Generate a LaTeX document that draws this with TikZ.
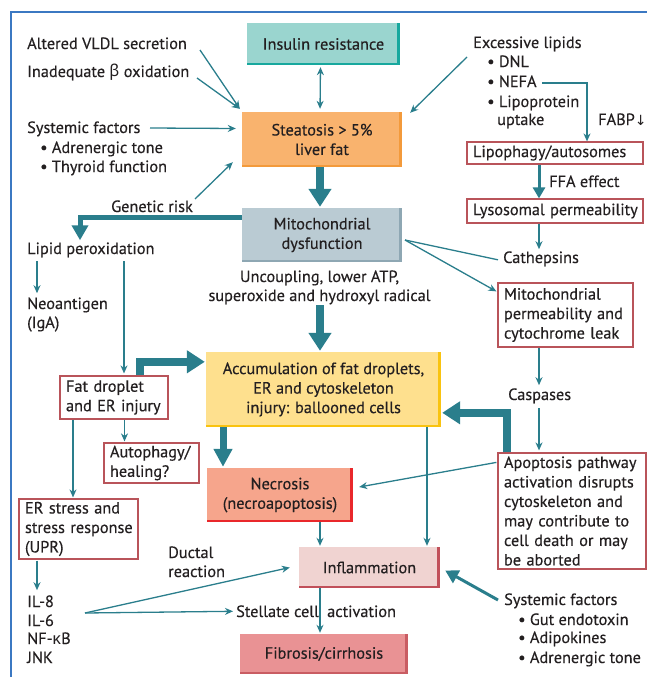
\documentclass[tikz,border=0pt]{standalone}
\usepackage{fontspec}
\setmainfont{PT Sans}[FakeBold=0.35]
\newfontfamily\gkfont{Noto Sans}
\newfontfamily\symfont{DejaVu Sans}
\usetikzlibrary{arrows.meta,calc}
\definecolor{arrc}{HTML}{2A7E8C}
\definecolor{framec}{HTML}{3B78C2}
\definecolor{rboxc}{HTML}{B9545A}
\definecolor{tc}{HTML}{231F20}
\definecolor{insf}{HTML}{9AD5CF}\definecolor{inse}{HTML}{17A89E}
\definecolor{steatf}{HTML}{F9B36E}\definecolor{steate}{HTML}{F39A3B}
\definecolor{mitof}{HTML}{BACBD3}\definecolor{mitoe}{HTML}{8EA7B3}
\definecolor{accf}{HTML}{FEE08E}\definecolor{acce}{HTML}{F9C310}
\definecolor{necf}{HTML}{F6A58C}\definecolor{nece}{HTML}{E9282B}
\definecolor{inff}{HTML}{F0D3D1}\definecolor{infe}{HTML}{C1505A}
\definecolor{fibf}{HTML}{E99294}\definecolor{fibe}{HTML}{C95D63}
\tikzset{
  every node/.style={font=\fontsize{16.3}{19.5}\selectfont, text=tc},
  txt/.style={inner sep=0pt, anchor=base west},
  ctxt/.style={inner sep=0pt, anchor=base},
  rbox/.style={draw=rboxc, line width=1.2pt, fill=white, inner xsep=6pt, inner ysep=0pt, align=left},
  cbox/.style n args={2}{fill=#1, inner sep=0pt, align=center,
    path picture={
      \fill[#2] ([xshift=-3pt]path picture bounding box.north east) rectangle (path picture bounding box.south east);
      \fill[#2] (path picture bounding box.south west) rectangle ([yshift=2pt]path picture bounding box.south east);}},
  arr/.style={draw=arrc, line width=1.3pt, -{Stealth[length=8pt,width=7pt]}},
  darr/.style={draw=arrc, line width=1.3pt, {Stealth[length=8pt,width=7pt]}-{Stealth[length=8pt,width=7pt]}},
  plainl/.style={draw=arrc, line width=1.3pt},
  marr/.style={draw=arrc, line width=3pt, -{Triangle[length=11pt,width=12pt]}},
  tarr/.style={draw=arrc, line width=8pt, -{Triangle[length=18pt,width=22pt]}},
}
\begin{document}
\hyphenpenalty=10000 \exhyphenpenalty=10000 \lefthyphenmin=64
\begin{tikzpicture}[x=1pt,y=-1pt]
\useasboundingbox (0,0) rectangle (647,677);
\draw[framec, line width=2pt] (11,677) -- (11,12) -- (647,12);

% coloured boxes
\node[cbox={insf}{inse}, minimum width=153pt, minimum height=42pt] (ins) at (323.5,44) {Insulin resistance};
\node[cbox={steatf}{steate}, minimum width=160pt, minimum height=55pt] (steat) at (322,139.5) {Steatosis > 5\%\\liver fat};
\node[cbox={mitof}{mitoe}, minimum width=160pt, minimum height=54pt] (mito) at (322,235) {Mitochondrial\\dysfunction};
\node[cbox={accf}{acce}, minimum width=235pt, minimum height=75pt] (accum) at (323.5,389.5) {Accumulation of fat droplets,\\ER and cytoskeleton\\injury: ballooned cells};
\node[cbox={necf}{nece}, minimum width=146pt, minimum height=54pt] (necro) at (280,495) {Necrosis\\(necroapoptosis)};
\node[cbox={inff}{infe}, minimum width=141pt, minimum height=41pt] (infl) at (369.5,567.5) {Inflammation};
\node[cbox={fibf}{fibe}, minimum width=168pt, minimum height=40pt] (fib) at (324,654) {Fibrosis/cirrhosis};

% red outlined boxes
\node[rbox, minimum width=176pt, minimum height=22pt, text width=164pt] (lipo) at (555,153) {Lipophagy/autosomes};
\node[rbox, minimum width=176pt, minimum height=24pt, text width=164pt] (lyso) at (555,211) {Lysosomal~permeability};
\node[rbox, minimum width=135pt, minimum height=64pt, text width=123pt] (mperm) at (565.5,315) {Mitochondrial\\permeability~and\\cytochrome~leak};
\node[rbox, minimum width=108pt, minimum height=43pt, text width=96pt] (fatd) at (114,397.5) {Fat~droplet\\and~ER~injury};
\node[rbox, minimum width=95pt, minimum height=40pt, text width=83pt] (autoph) at (151.5,463) {Autophagy/\\healing?};
\node[rbox, minimum width=119pt, minimum height=60pt, text width=107pt] (ers) at (78.5,529) {ER~stress~and\\stress~response\\(UPR)};
\node[rbox, minimum width=148pt, minimum height=116pt, text width=136pt] (apop) at (572,511) {Apoptosis~pathway\\activation~disrupts\\cytoskeleton~and\\may~contribute~to\\cell~death~or~may\\be~aborted};

% plain texts
\node[txt] (vldl) at (27,49) {Altered VLDL secretion};
\node[txt] (beta) at (27,77) {Inadequate {\gkfont β} oxidation};
\node[txt] (sysL) at (27,133) {Systemic factors};
\node[txt] (sysLa) at (40,153) {• Adrenergic tone};
\node[txt] (sysLb) at (40,172) {• Thyroid function};
\node[txt] (gen) at (111,212) {Genetic risk};
\node[txt] (exl) at (473,48) {Excessive lipids};
\node[txt] (dnl) at (487,67) {• DNL};
\node[txt] (nefa) at (487,87) {• NEFA};
\node[txt] (lipop) at (487,107) {• Lipoprotein};
\node[txt] (upt) at (497,125) {uptake};
\node[txt] (fabp) at (598,125) {FABP{\symfont\fontsize{14}{14}\selectfont ↓}};
\node[txt] (ffa) at (549,187) {FFA effect};
\node[txt] (cath) at (503,263) {Cathepsins};
\node[txt] (lipid) at (27,254) {Lipid peroxidation};
\node[txt] (neo) at (27,309) {Neoantigen};
\node[txt] (iga) at (27,328) {(IgA)};
\node[ctxt] (unc1) at (319.5,282) {Uncoupling, lower ATP,};
\node[ctxt] (unc2) at (319.5,301) {superoxide and hydroxyl radical};
\node[txt] (casp) at (508,400) {Caspases};
\node[txt] (il8) at (27,607) {IL-8};
\node[txt] (il6) at (27,626) {IL-6};
\node[txt] (nfkb) at (27,644) {NF-{\gkfont κ}B};
\node[txt] (jnk) at (27,663) {JNK};
\node[txt] (duct1) at (168,558) {Ductal};
\node[txt] (duct2) at (168,577) {reaction};
\node[txt] (stell) at (236,617) {Stellate cell\hspace{4pt} activation};
\node[txt] (sysR) at (504,605) {Systemic factors};
\node[txt] (sysRa) at (518,625) {• Gut endotoxin};
\node[txt] (sysRb) at (518,643) {• Adipokines};
\node[txt] (sysRc) at (518,663) {• Adrenergic tone};

% free ends
\coordinate (pVLDL) at (200,50);
\coordinate (pBETA) at (197,78);
\coordinate (pSYS) at (150,128);
\coordinate (pGEN) at (195,199);
\coordinate (pEXL) at (467,57);
\coordinate (pNEFA) at (542,83);
\coordinate (pMV) at (405,240);
\coordinate (pUNC) at (320,305);
\coordinate (pIL) at (85,613);
\coordinate (pSYSR) at (498,600);

% thin connectors
\draw[arr] (pVLDL) -- ($(steat.north west)+(-2,-3)$);
\draw[arr] (pBETA) -- ($(steat.north west)+(-2,-3)$);
\draw[arr] (pSYS) -- ($(steat.west)+(-6,-11)$);
\draw[arr] (pGEN) -- ($(steat.south west)+(-9,-5)$);
\draw[darr, shorten <=2pt, shorten >=3pt] ([xshift=-3pt]ins.south) -- ([xshift=-2pt]steat.north);
\draw[arr] (pEXL) -- ($(steat.north east)+(8,1)$);
\draw[arr] (pNEFA) -| ([xshift=32pt]lipo.north);
\draw[marr] ([xshift=-16pt]lipo.south) -- ([xshift=-16pt]lyso.north);
\draw[arr, shorten >=2pt] ([xshift=-16pt]lyso.south) -- ([xshift=-16pt]lyso.south |- cath.north);
\draw[plainl] (pMV) -- ($(cath.west)+(-5,1)$);
\draw[arr] (pMV) -- ($(mperm.north west)+(-1,9)$);
\draw[arr, shorten >=3pt] ([xshift=-26.5pt]mperm.south) -- ([xshift=-26.5pt]mperm.south |- casp.north);
\draw[arr, shorten <=5pt, shorten >=2pt] ([xshift=-26.5pt]mperm.south |- casp.south) -- ([xshift=-26.5pt]mperm.south |- apop.north);
\draw[arr] ($(apop.north west)+(-1,10)$) -- ($(necro.east)+(6,-8)$);
\draw[arr, shorten >=1pt] ([xshift=103.5pt]accum.south) -- ([xshift=103.5pt]accum.south |- infl.north);
\draw[arr, shorten >=1pt] ([xshift=40pt]necro.south) -- ([xshift=40pt]necro.south |- infl.north);
\draw[arr, shorten >=1pt] ([xshift=-49.5pt]infl.south) -- ([xshift=-49.5pt]infl.south |- fib.north);
\draw[arr] (pIL) -- ($(infl.west)+(-9,0)$);
\draw[arr] (pIL) -- ($(stell.west)+(-3,0)$);
\draw[marr, line width=3pt, -{Triangle[length=13pt,width=14pt]}] (pSYSR) -- ($(infl.east)+(5,3)$);
\draw[arr, shorten <=4pt, shorten >=4pt] ([xshift=10pt]lipid.south west) -- ([xshift=10pt]lipid.south west |- neo.north);
\draw[arr, shorten <=4pt, shorten >=2pt] ([xshift=97pt]lipid.south west) -- ([xshift=97pt]lipid.south west |- fatd.north);
\draw[arr, shorten >=1pt] ([xshift=10.5pt]fatd.south) -- ([xshift=10.5pt]fatd.south |- autoph.north);
\draw[arr, shorten >=1pt] ([xshift=-41pt]fatd.south) -- ([xshift=-41pt]fatd.south |- ers.north);
\draw[arr, shorten <=1pt, shorten >=5pt] ([xshift=-41.5pt]ers.south) -- ([xshift=-41.5pt]ers.south |- il8.north);

% thick connectors
\draw[tarr, shorten >=1pt] ([xshift=-2pt]steat.south) -- ([xshift=-2pt]mito.north);
\draw[tarr, line width=5pt, -{Triangle[length=15pt,width=16pt]}] ($(mito.north west)+(0,10)$) -| ($(lipid.north west)+(53,-2)$);
\draw[tarr, shorten >=1pt] (pUNC) -- (pUNC |- accum.north);
\draw[tarr] ([xshift=26pt]fatd.north) |- ($(accum.north west)+(-1,10)$);
\draw[tarr] ([xshift=-65pt]apop.north) |- ($(accum.north east)+(1,61)$);
\draw[tarr, line width=7pt, -{Triangle[length=18pt,width=18pt]}, shorten >=1pt] ([xshift=-100.5pt]accum.south) -- ([xshift=-100.5pt]accum.south |- necro.north);
\end{tikzpicture}
\end{document}
